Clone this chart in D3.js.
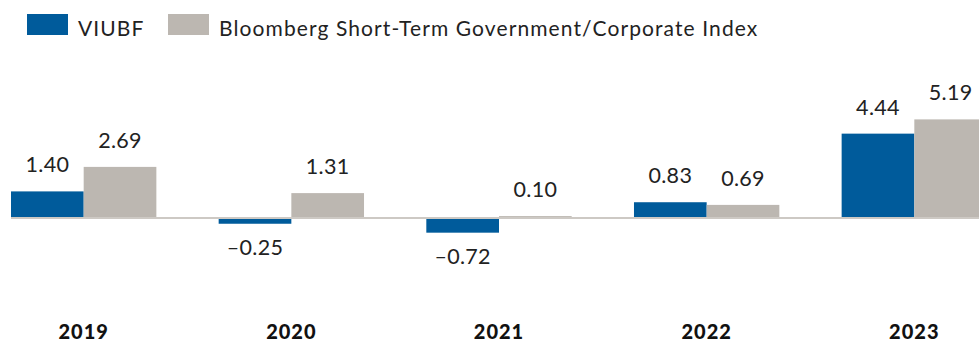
<!DOCTYPE html>
<html>
<head>
<meta charset="utf-8">
<script src="https://cdn.jsdelivr.net/npm/d3@7"></script>
<style>
  html, body { margin: 0; padding: 0; background: #fff; overflow: hidden; }
  svg { display: block; font-family: Lato, "Noto Sans", sans-serif; }
</style>
</head>
<body>
<svg id="chart" width="979" height="343"></svg>
<script>
// Calendar-year returns (%)
const years = ["2019", "2020", "2021", "2022", "2023"];
const fundValues = [1.40, -0.25, -0.72, 0.83, 4.44];
const indexValues = [2.69, 1.31, 0.10, 0.69, 5.19];
const seriesNames = ["VIUBF", "Bloomberg Short-Term Government/Corporate Index"];
const seriesColors = ["#005b9b", "#bcb7b1"];

const svg = d3.select("#chart");
const width = 979, height = 343;

const x = d3.scaleBand().domain(years).range([11, 987]).paddingInner(0.3).paddingOuter(0);
const xSeries = d3.scaleBand().domain([0, 1]).range([0, x.bandwidth()]).padding(0);
// 19 px per percentage point, zero at y = 218
const y = d3.scaleLinear().domain([-1, 5.19]).range([237, 218 - 5.19 * 19]);

const rows = years.map((yr, i) => ({ year: yr, values: [fundValues[i], indexValues[i]] }));
const fmt = v => (v < 0 ? "\u2013" : "") + Math.abs(v).toFixed(2);

// Bars
const groups = svg.append("g").selectAll("g").data(rows).join("g")
  .attr("transform", d => `translate(${x(d.year)},0)`);

groups.selectAll("rect").data(d => d.values.map((v, k) => ({ v, k }))).join("rect")
  .attr("x", d => xSeries(d.k))
  .attr("width", xSeries.bandwidth())
  .attr("y", d => d.v >= 0 ? y(d.v) : y(0) + 1)
  .attr("height", d => Math.abs(y(d.v) - y(0)))
  .attr("fill", d => seriesColors[d.k]);

// Zero line
svg.append("line")
  .attr("x1", x(years[0])).attr("x2", width)
  .attr("y1", y(0)).attr("y2", y(0))
  .attr("stroke", "#cdc9c4").attr("stroke-width", 2);

// Value labels
groups.selectAll("text.val").data(d => d.values.map((v, k) => ({ v, k }))).join("text")
  .attr("class", "val")
  .attr("x", d => xSeries(d.k) + xSeries.bandwidth() / 2)
  .attr("y", d => d.v >= 0 ? y(d.v) - 19 : y(d.v) + 32)
  .attr("text-anchor", "middle")
  .attr("font-size", 21.5)
  .attr("letter-spacing", 0.3)
  .attr("fill", "#222")
  .text(d => fmt(d.v));

// Year labels
svg.append("g").selectAll("text").data(years).join("text")
  .attr("x", d => x(d) + x.bandwidth() / 2)
  .attr("y", 339)
  .attr("text-anchor", "middle")
  .attr("font-size", 20)
  .attr("font-weight", 900)
  .attr("letter-spacing", 1)
  .attr("fill", "#111")
  .text(d => d);

// Legend
const legendX = [27, 168];
const legend = svg.append("g").selectAll("g").data(seriesNames).join("g")
  .attr("transform", (d, i) => `translate(${legendX[i]},14)`);
legend.append("rect").attr("width", 41).attr("height", 21).attr("fill", (d, i) => seriesColors[i]);
legend.append("text").attr("x", 51).attr("y", 22)
  .attr("font-size", 21).attr("letter-spacing", 1.1).attr("fill", "#222").text(d => d);
</script>
</body>
</html>
